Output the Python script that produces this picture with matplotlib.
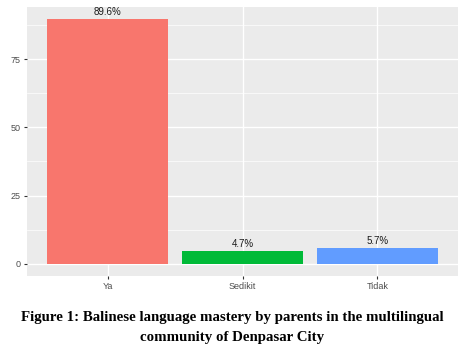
import matplotlib.pyplot as plt
from matplotlib.ticker import MultipleLocator

# Balinese language mastery by parents
categories = ['Ya', 'Sedikit', 'Tidak']
percent = [89.6, 4.7, 5.7]
colors = ['#F8766D', '#00BA38', '#619CFF']

plt.rcParams['font.family'] = ['Liberation Sans', 'DejaVu Sans']

fig = plt.figure(figsize=(4.65, 3.5), dpi=100)
W, H = 465, 350
ax = fig.add_axes([27 / W, (H - 276) / H, (458 - 27) / W, (276 - 7) / H])
ax.set_facecolor('#EBEBEB')

x = range(len(categories))
ax.bar(x, percent, width=0.9, color=colors, zorder=3)
for xi, v in zip(x, percent):
    ax.text(xi, v + 0.8, f'{v}%', ha='center', va='bottom', fontsize=7,
            color='#1a1a1a', zorder=4)

ax.set_xlim(-0.6, 2.6)
ax.set_ylim(-4.48, 94.08)
ax.yaxis.set_major_locator(MultipleLocator(25))
ax.yaxis.set_minor_locator(MultipleLocator(12.5))
ax.set_xticks(list(x))
ax.set_xticklabels(categories)

ax.grid(which='major', color='white', linewidth=1.0, zorder=0)
ax.grid(which='minor', axis='y', color='white', linewidth=0.5, zorder=0)
for s in ax.spines.values():
    s.set_visible(False)
ax.tick_params(which='major', length=2.5, color='#333333', labelsize=6.5,
               labelcolor='#4D4D4D', pad=2)
ax.tick_params(which='minor', length=0)

# caption below the plot
fig.text(0.5, 1 - 318 / H,
         'Figure 1: Balinese language mastery by parents in the multilingual',
         ha='center', va='center', fontsize=10.7, fontweight='bold',
         family='Liberation Serif', color='black')
fig.text(0.5, 1 - 338 / H, 'community of Denpasar City',
         ha='center', va='center', fontsize=10.7, fontweight='bold',
         family='Liberation Serif', color='black')

fig.savefig('out.png', dpi=100, facecolor='white')
